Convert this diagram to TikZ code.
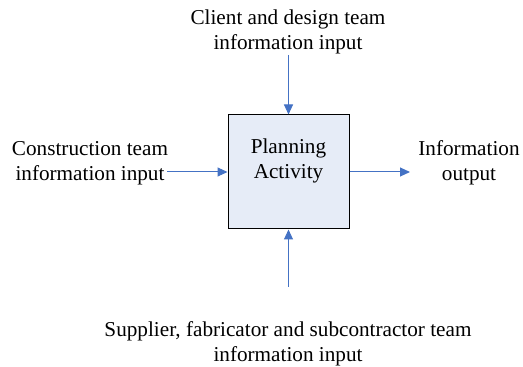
\documentclass[tikz,border=0pt]{standalone}
\usepackage{fontspec}
\setmainfont{Liberation Serif}
\usetikzlibrary{arrows.meta}
\definecolor{arrowblue}{HTML}{4472C4}
\definecolor{boxfill}{HTML}{E6ECF7}
\begin{document}
\begin{tikzpicture}[x=1pt,y=1pt,
  lbl/.style={align=center,font=\fontsize{21.2}{24.5}\selectfont,inner sep=0pt},
  conn/.style={draw=arrowblue,line width=1pt,-{Triangle[length=10pt,width=9pt]}},
  actbox/.style={draw=black,line width=1pt,fill=boxfill,minimum width=121pt,minimum height=114pt,inner sep=0pt}]
\useasboundingbox (0,0) rectangle (523,367);
\node[actbox] (box) at (288.5,195) {};
\node[lbl] (ptext) at (288.5,206) {Planning\\Activity};
\node[lbl] (top) at (288,335) {Client and design team\\information input};
\node[lbl] (left) at (90,204) {Construction team\\information input};
\node[lbl] (right) at (469,204) {Information\\output};
\node[lbl] (bottom) at (288,23) {Supplier, fabricator and subcontractor team\\information input};
\coordinate (tstart) at (288.5,312);
\coordinate (bstart) at (288.5,80);
\coordinate (lstart) at (167,195);
\coordinate (rend) at (410,195);
\draw[conn] (tstart) -- (box.north);
\draw[conn] (bstart) -- (box.south);
\draw[conn] (lstart) -- (box.west);
\draw[conn] (box.east) -- (rend);
\end{tikzpicture}
\end{document}
